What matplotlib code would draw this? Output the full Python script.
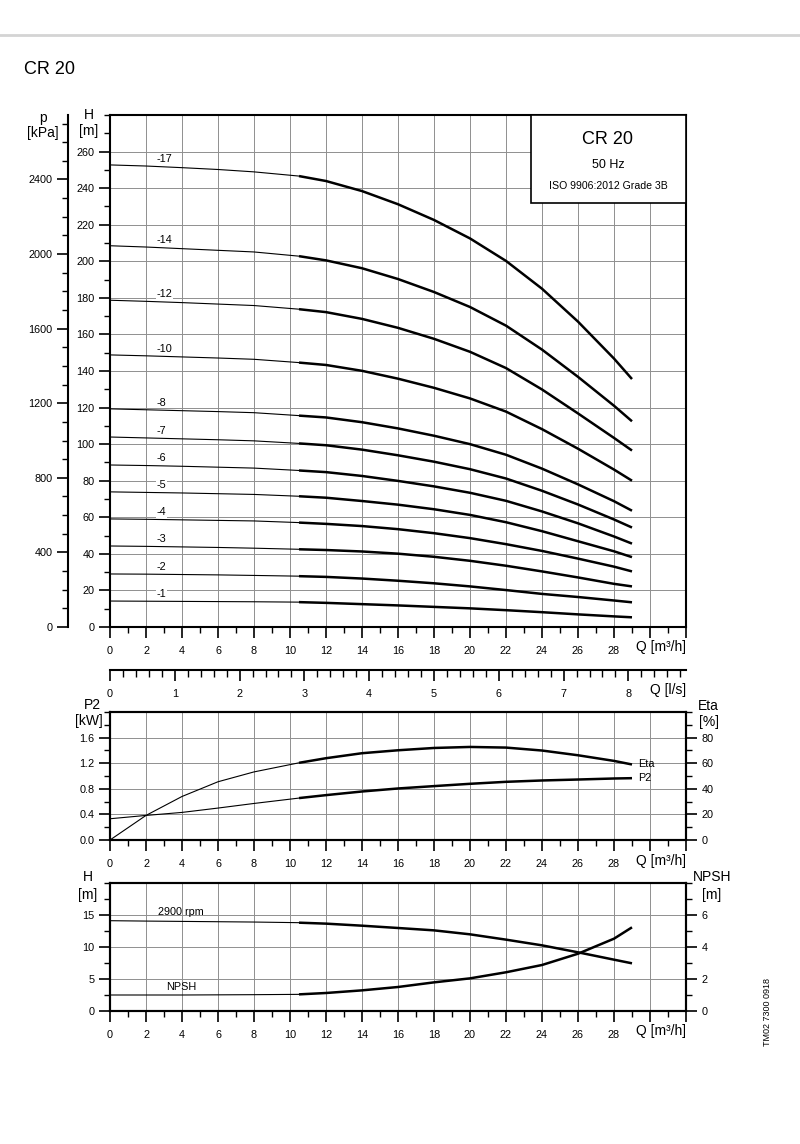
import numpy as np
import matplotlib
matplotlib.use('Agg')
import matplotlib.pyplot as plt
from matplotlib.ticker import MultipleLocator
from matplotlib.patches import Rectangle

plt.rcParams['font.family'] = ['Liberation Sans', 'DejaVu Sans']

# flow points (m3/h); the curve is thin up to 10.5 and thick after
q = [0, 2, 4, 6, 8, 10.5, 12, 14, 16, 18, 20, 22, 24, 26, 28, 29]
split = 5

# head per stage count [m]
h17 = [252.7, 252.1, 251.2, 250.2, 248.9, 246.6, 243.9, 238.4, 231.2, 222.6, 212.5, 200.2, 185.0, 167.0, 146.8, 135.6]
h14 = [208.5, 207.8, 206.9, 206.0, 205.1, 202.8, 200.5, 196.2, 190.3, 183.2, 175.0, 164.8, 151.7, 136.8, 121.0, 112.5]
h12 = [178.7, 178.1, 177.4, 176.6, 175.8, 173.8, 172.2, 168.5, 163.6, 157.6, 150.5, 141.6, 129.9, 116.8, 103.4, 96.5]
h10 = [148.8, 148.3, 147.7, 147.1, 146.4, 144.6, 143.3, 140.1, 135.8, 130.8, 125.0, 117.8, 108.2, 97.5, 86.1, 80.0]
h8 = [119.3, 118.8, 118.3, 117.8, 117.2, 115.6, 114.6, 112.0, 108.6, 104.6, 100.0, 94.2, 86.6, 78.0, 68.8, 63.6]
h7 = [103.9, 103.4, 102.9, 102.4, 101.8, 100.4, 99.4, 97.0, 93.9, 90.4, 86.3, 81.2, 74.5, 67.0, 58.8, 54.4]
h6 = [88.6, 88.3, 87.9, 87.4, 86.9, 85.6, 84.7, 82.6, 79.9, 76.9, 73.4, 69.0, 63.2, 56.7, 49.5, 45.6]
h5 = [73.9, 73.6, 73.3, 72.9, 72.5, 71.5, 70.7, 68.9, 66.9, 64.4, 61.3, 57.3, 52.4, 46.9, 41.4, 38.2]
h4 = [59.1, 58.9, 58.6, 58.3, 58.0, 57.1, 56.4, 55.2, 53.5, 51.3, 48.6, 45.3, 41.6, 37.4, 33.0, 30.4]
h3 = [44.3, 44.1, 43.8, 43.5, 43.1, 42.5, 42.1, 41.3, 40.1, 38.4, 36.2, 33.5, 30.4, 27.1, 23.6, 22.2]
h2 = [29.0, 28.9, 28.7, 28.5, 28.2, 27.8, 27.4, 26.5, 25.3, 23.9, 22.2, 20.2, 18.1, 16.4, 14.5, 13.5]
h1 = [14.2, 14.1, 14.0, 13.9, 13.8, 13.6, 13.2, 12.5, 11.8, 11.0, 10.2, 9.2, 8.1, 6.9, 5.8, 5.3]
stage_names = ['-17', '-14', '-12', '-10', '-8', '-7', '-6', '-5', '-4', '-3', '-2', '-1']
stage_heads = [h17, h14, h12, h10, h8, h7, h6, h5, h4, h3, h2, h1]

# power and efficiency
p2 = [0.332, 0.384, 0.431, 0.499, 0.571, 0.655, 0.701, 0.758, 0.805, 0.842, 0.878, 0.909, 0.930, 0.945, 0.961, 0.966]
eta = [0.0, 19.2, 34.0, 45.5, 53.2, 60.3, 63.9, 67.8, 70.1, 71.9, 72.7, 72.2, 69.9, 66.2, 61.8, 59.0]

# single stage head at 2900 rpm and NPSH
h_rpm = [14.11, 14.05, 14.0, 13.95, 13.9, 13.8, 13.65, 13.33, 12.97, 12.6, 11.98, 11.15, 10.26, 9.17, 8.02, 7.45]
npsh = [1.0, 1.0, 1.0, 1.01, 1.02, 1.04, 1.125, 1.29, 1.5, 1.79, 2.04, 2.42, 2.875, 3.58, 4.52, 5.23]

W, H = 800, 1144
fig = plt.figure(figsize=(W/100, H/100), dpi=100)

def box(x0, y0, x1, y1):
    return [x0/W, 1 - y1/H, (x1-x0)/W, (y1-y0)/H]

def ftext(x, y, s, **kw):
    fig.text(x/W, 1 - y/H, s, **kw)

GRID = '#8f8f8f'
TICK = 7.8

def style(ax):
    for s in ax.spines.values():
        s.set_linewidth(1.5)
    ax.tick_params(which='major', direction='out', length=8, width=1.2, labelsize=TICK, pad=3)
    ax.tick_params(which='minor', direction='out', length=4, width=1.0)
    ax.tick_params(axis='x', which='major', pad=5.5)

def q_axis(ax, label_y):
    ax.set_xlim(0, 32)
    ticks = np.arange(0, 33, 2)
    ax.set_xticks(ticks)
    ax.set_xticklabels([str(t) if t <= 28 else '' for t in ticks])
    ax.xaxis.set_minor_locator(MultipleLocator(1))
    ax.grid(True, which='major', color=GRID, linewidth=0.7)
    ax.set_axisbelow(True)
    ftext(686, label_y, 'Q [m\u00b3/h]', fontsize=10, ha='right', va='center')

def two_part(ax, x, y):
    ax.plot(x[:split+1], y[:split+1], color='black', lw=0.8, solid_capstyle='butt')
    ax.plot(x[split:], y[split:], color='black', lw=1.8, solid_capstyle='butt',
            solid_joinstyle='round')

# header
fig.add_artist(plt.Line2D([0, 1], [1 - 35/H, 1 - 35/H], color='#d4d4d4', lw=2))
ftext(24, 70, 'CR 20', fontsize=13, ha='left', va='center')

# ---- main head chart
ax = fig.add_axes(box(110, 115, 686, 627))
style(ax)
ax.set_ylim(0, 280)
ax.set_yticks(np.arange(0, 261, 20))
ax.yaxis.set_minor_locator(MultipleLocator(10))
q_axis(ax, 647)
for name, hv in zip(stage_names, stage_heads):
    two_part(ax, q, hv)
    ax.annotate(name, (2.6, hv[1]), xytext=(0, 1.5), textcoords='offset points',
                fontsize=TICK, ha='left', va='bottom',
                bbox=dict(boxstyle='square,pad=0.05', fc='white', ec='none'))

kpa = ax.twinx()
kpa.set_ylim(0, 280*9.80665)
for s in ['top', 'right', 'bottom']:
    kpa.spines[s].set_visible(False)
kpa.spines['left'].set_position(('outward', 30.2))
kpa.yaxis.set_ticks_position('left')
kpa.yaxis.set_label_position('left')
style(kpa)
kpa.set_yticks(np.arange(0, 2401, 400))
kpa.yaxis.set_minor_locator(MultipleLocator(100))

ftext(89, 115, 'H', fontsize=10, ha='center', va='center')
ftext(89, 131, '[m]', fontsize=10, ha='center', va='center')
ftext(43, 118, 'p', fontsize=10, ha='center', va='center')
ftext(43, 133, '[kPa]', fontsize=10, ha='center', va='center')

# info box
ax.add_patch(Rectangle(((531-110)/576, (627-203)/512), (686-531)/576, (203-115)/512,
                       transform=ax.transAxes, fc='white', ec='black', lw=1.2, zorder=5))
ftext(608, 140, 'CR 20', fontsize=13, ha='center', va='center', zorder=6)
ftext(608, 165, '50 Hz', fontsize=9, ha='center', va='center', zorder=6)
ftext(608, 186, 'ISO 9906:2012 Grade 3B', fontsize=7.6, ha='center', va='center', zorder=6)

# ---- l/s scale
ls = fig.add_axes(box(110, 669, 686, 670))
for s in ['top', 'left', 'right']:
    ls.spines[s].set_visible(False)
style(ls)
ls.set_yticks([])
ls.set_xlim(0, 32/3.6)
ls.set_xticks(np.arange(0, 9, 1))
ls.xaxis.set_minor_locator(MultipleLocator(0.2))
ls.tick_params(axis='x', which='minor', length=5)
ls.patch.set_visible(False)
ftext(686, 690, 'Q [l/s]', fontsize=10, ha='right', va='center')

# ---- power / efficiency
axp = fig.add_axes(box(110, 712, 686, 840))
style(axp)
axp.set_ylim(0, 2.0)
axp.set_yticks(np.arange(0, 1.61, 0.4))
axp.set_yticklabels(['0.0', '0.4', '0.8', '1.2', '1.6'])
axp.yaxis.set_minor_locator(MultipleLocator(0.2))
q_axis(axp, 861)
two_part(axp, q, p2)
axe = axp.twinx()
axe.set_ylim(0, 100)
style(axe)
axe.set_yticks(np.arange(0, 81, 20))
axe.yaxis.set_minor_locator(MultipleLocator(10))
two_part(axe, q, eta)
axe.text(29.35, eta[-1], 'Eta', fontsize=TICK, ha='left', va='center')
axe.text(29.35, p2[-1]*50, 'P2', fontsize=TICK, ha='left', va='center')
ftext(92, 705, 'P2', fontsize=10, ha='center', va='center')
ftext(89, 721, '[kW]', fontsize=10, ha='center', va='center')
ftext(708, 706, 'Eta', fontsize=10, ha='center', va='center')
ftext(709, 722, '[%]', fontsize=10, ha='center', va='center')

# ---- NPSH
axn = fig.add_axes(box(110, 883, 686, 1011))
style(axn)
axn.set_ylim(0, 20)
axn.set_yticks([0, 5, 10, 15])
axn.yaxis.set_minor_locator(MultipleLocator(2.5))
q_axis(axn, 1031)
two_part(axn, q, h_rpm)
axr = axn.twinx()
axr.set_ylim(0, 8)
style(axr)
axr.set_yticks([0, 2, 4, 6])
axr.yaxis.set_minor_locator(MultipleLocator(1))
two_part(axr, q, npsh)
ftext(158, 912, '2900 rpm', fontsize=TICK, ha='left', va='center')
ftext(166, 987, 'NPSH', fontsize=TICK, ha='left', va='center')
ftext(88, 877, 'H', fontsize=10, ha='center', va='center')
ftext(88, 895, '[m]', fontsize=10, ha='center', va='center')
ftext(712, 877, 'NPSH', fontsize=10, ha='center', va='center')
ftext(712, 895, '[m]', fontsize=10, ha='center', va='center')

ftext(768, 1012, 'TM02 7300 0918', fontsize=6.5, rotation=90, ha='center', va='center')

fig.savefig('out.png', dpi=100)
